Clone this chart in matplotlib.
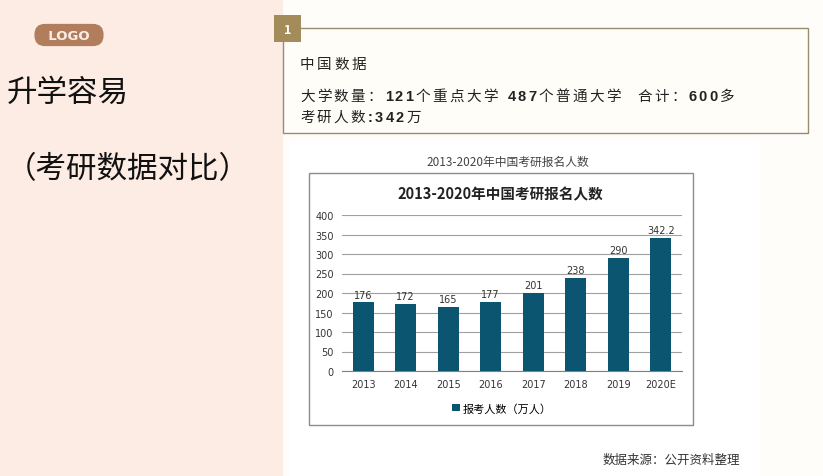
import matplotlib
matplotlib.use("Agg")
import matplotlib.pyplot as plt
from matplotlib.patches import Rectangle

plt.rcParams['font.family'] = ['Noto Sans CJK SC', 'DejaVu Sans']

years = ['2013', '2014', '2015', '2016', '2017', '2018', '2019', '2020E']
applicants = [176, 172, 165, 177, 201, 238, 290, 342.2]
value_labels = ['176', '172', '165', '177', '201', '238', '290', '342.2']
yticks = [0, 50, 100, 150, 200, 250, 300, 350, 400]

W, H = 823, 477
fig = plt.figure(figsize=(W / 100, H / 100), dpi=100)
fig.patch.set_facecolor('#fffdfa')
renderer = fig.canvas.get_renderer()

def fx(px):
    return px / W

def fy(py):
    return 1 - py / H

def spaced_text(x0, y0, s, size, gap, color='#222222'):
    # draw char by char with extra tracking; digits in bold
    x = x0
    for ch in s:
        bold = ch.isdigit() or ch == ':'
        t = fig.text(fx(x), fy(y0), ch, fontsize=size, ha='left', va='center',
                     color=color, fontweight='bold' if bold else 'normal',
                     family=['Liberation Sans', 'Noto Sans CJK SC'] if bold else None)
        w = t.get_window_extent(renderer).width
        if ch == ' ':
            w = size * 0.45
        x += w + gap

# left peach panel
fig.patches.append(Rectangle((0, 0), fx(283), 1, transform=fig.transFigure,
                             facecolor='#fdece3', edgecolor='none', zorder=0))

# logo pill
fig.text(fx(69), fy(36), '  LOGO  ', color='#fbeee6', fontsize=9.5, fontweight='bold',
         ha='center', va='center', family=['DejaVu Sans'],
         bbox=dict(boxstyle='round,pad=0.35,rounding_size=0.8', fc='#b17d5c', ec='none'))

fig.text(fx(7), fy(93), '升学容易', fontsize=22, ha='left', va='center', color='#111111')
fig.text(fx(6), fy(170), '（考研数据对比）', fontsize=22, ha='left', va='center', color='#111111')

# info box
fig.patches.append(Rectangle((fx(283), fy(134)), fx(808 - 283), fy(29) - fy(134),
                             transform=fig.transFigure, facecolor='#fffdf8',
                             edgecolor='#9a8c70', linewidth=1.0, zorder=1))
fig.patches.append(Rectangle((fx(274), fy(43)), fx(27), fy(16) - fy(43),
                             transform=fig.transFigure, facecolor='#a38b5a',
                             edgecolor='none', zorder=2))
fig.text(fx(287.5), fy(30), '1', color='white', fontsize=9, fontweight='bold',
         ha='center', va='center', zorder=3)
spaced_text(300, 65, '中国数据', 10.5, 2.5)
spaced_text(300, 97, '大学数量：121个重点大学 487个普通大学  合计：600多', 10.5, 2.3)
spaced_text(300, 118, '考研人数:342万', 10.5, 2.3)

# chart image background
fig.patches.append(Rectangle((fx(290), 0), fx(470), fy(142), transform=fig.transFigure,
                             facecolor='white', edgecolor='none', zorder=0))
fig.text(fx(508), fy(162), '2013-2020年中国考研报名人数', fontsize=8.5,
         ha='center', va='center', color='#444444')
fig.patches.append(Rectangle((fx(309), fy(426)), fx(693 - 309), fy(174) - fy(426),
                             transform=fig.transFigure, facecolor='white',
                             edgecolor='#8c8c8c', linewidth=1.0, zorder=1))
fig.text(fx(500), fy(194), '2013-2020年中国考研报名人数', fontsize=10.5,
         fontweight='bold', ha='center', va='center', color='#222222', zorder=3)

ax = fig.add_axes([fx(342), fy(372), fx(682 - 342), fy(216) - fy(372)], zorder=3)
ax.set_facecolor('none')
x = range(len(years))
ax.bar(x, applicants, width=0.49, color='#0c5570', zorder=3, label='报考人数（万人）')
for xi, v, lab in zip(x, applicants, value_labels):
    ax.text(xi, v + 7, lab, ha='center', va='bottom', fontsize=7, color='#333333',
            family=['DejaVu Sans'], zorder=4)
ax.set_xlim(-0.5, 7.5)
ax.set_ylim(0, 400)
ax.set_yticks(yticks)
ax.set_yticklabels([str(t) for t in yticks], family=['DejaVu Sans'])
ax.set_xticks(list(x))
ax.set_xticklabels(years, family=['DejaVu Sans'])
ax.tick_params(axis='both', length=0, labelsize=7, colors='#333333')
ax.tick_params(axis='x', pad=6)
ax.tick_params(axis='y', pad=6)
ax.grid(axis='y', color='#a0a0a0', linewidth=0.8, zorder=0)
for s in ['top', 'right', 'left']:
    ax.spines[s].set_visible(False)
ax.spines['bottom'].set_color('#808080')
ax.legend(loc='upper center', bbox_to_anchor=(0.47, -0.14), frameon=False,
          fontsize=8, handlelength=0.7, handleheight=0.7, handletextpad=0.3)

fig.text(fx(603), fy(460), '数据来源：公开资料整理', fontsize=9, ha='left', va='center',
         color='#333333')

fig.savefig('out.png', dpi=100, facecolor=fig.get_facecolor())
